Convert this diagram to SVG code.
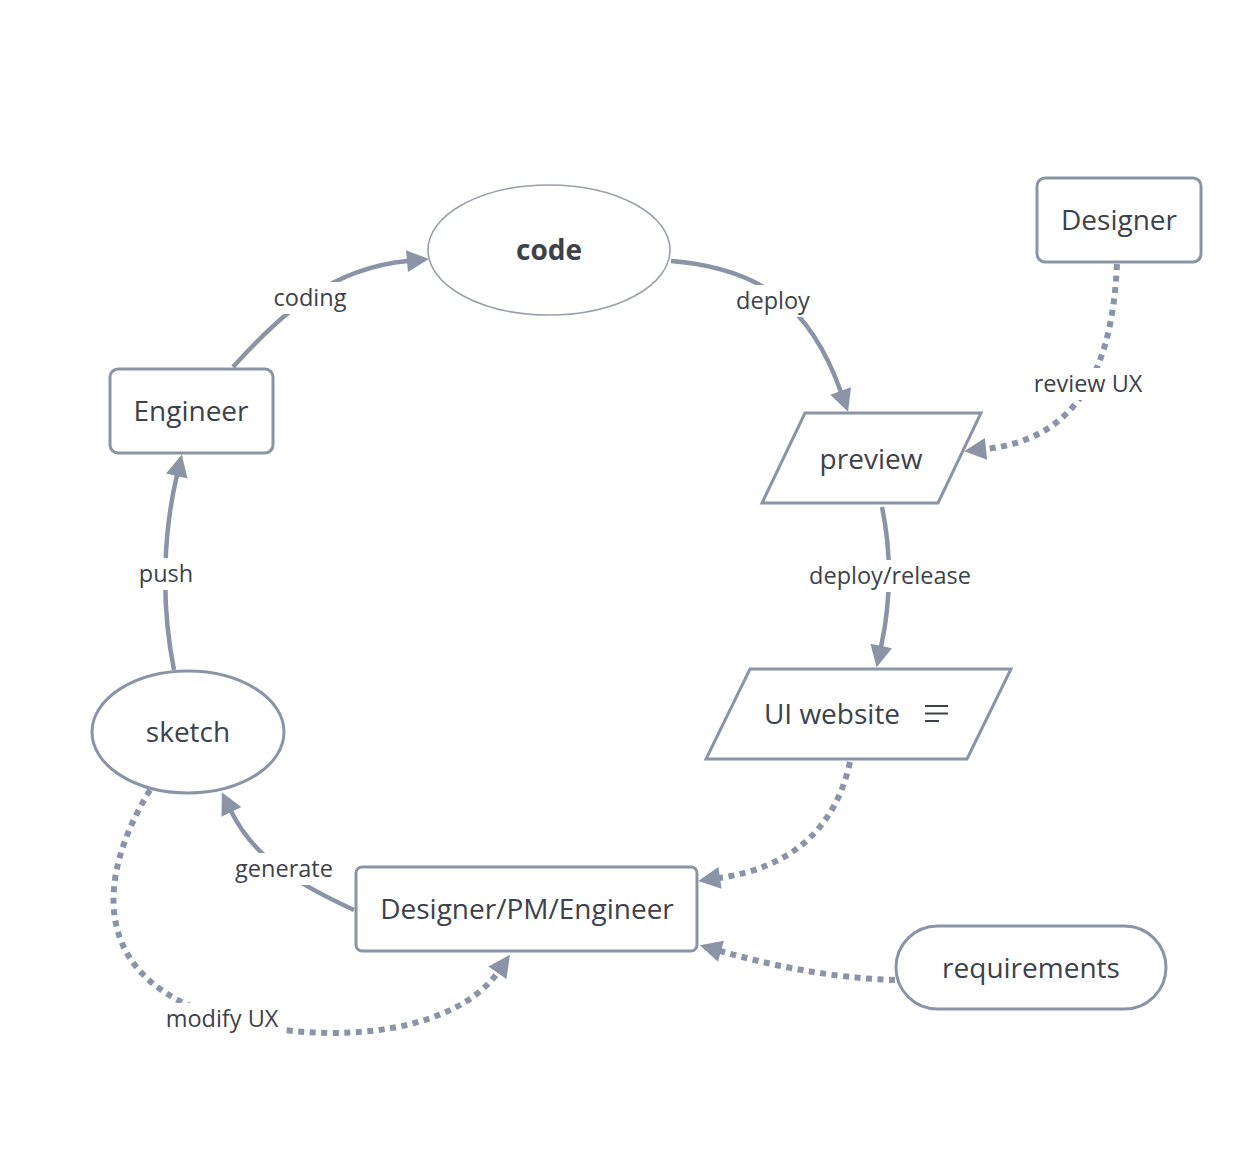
<svg xmlns="http://www.w3.org/2000/svg" width="1260" height="1152" viewBox="0 0 1260 1152">
<defs>
<style>
.shape{fill:#fff;stroke:#8b94a6;stroke-width:3}
.thin{fill:#fff;stroke:#9aa0ab;stroke-width:1.6}
.nt{font-family:"Open Sans","DejaVu Sans",sans-serif;font-size:28px;fill:#3d414a;text-anchor:middle;dominant-baseline:central}
.lt{font-family:"Open Sans","DejaVu Sans",sans-serif;font-size:23.5px;fill:#3d414a;text-anchor:middle;dominant-baseline:central}
.solid{fill:none;stroke:#8b94a6;stroke-width:4.5;marker-end:url(#ah)}
.dot{fill:none;stroke:#8b94a6;stroke-width:6;stroke-dasharray:6 5.5;marker-end:url(#ah)}
.bg{fill:#fff}
</style>
<marker id="ah" markerUnits="userSpaceOnUse" markerWidth="26" markerHeight="26" viewBox="-2 -13 26 26" refX="1" refY="0" orient="auto">
<path d="M0,-11 L22,0 L0,11 z" fill="#8b94a6"/>
</marker>
</defs>
<rect width="1260" height="1152" fill="#fff"/>
<g id="connectors">
<path class="solid" d="M233,367 C280,315 330,268 408,261"/>
<path class="solid" d="M671,261 C760,268 810,305 841,392"/>
<path class="solid" d="M882,507 C893,560 889,610 881,647"/>
<path class="solid" d="M174,670 C160,600 164,530 177,475"/>
<path class="solid" d="M354,910 C300,885 255,860 231,811"/>
<path class="dot" d="M1117,264 C1112,380 1070,440 985,449"/>
<path class="dot" d="M850,762 C835,830 790,868 719,878"/>
<path class="dot" d="M895,980 C830,978 770,965 720,951"/>
<path class="dot" d="M150,790 C95,880 95,970 200,1010 C240,1025 280,1032 330,1033 C420,1033 475,1005 498,972"/>
<rect class="bg" x="264" y="282" width="92" height="32"/>
<text class="lt" x="310" y="297">coding</text>
<rect class="bg" x="730" y="285" width="86" height="32"/>
<text class="lt" x="773" y="300">deploy</text>
<rect class="bg" x="802" y="560" width="176" height="32"/>
<text class="lt" x="890" y="575">deploy/release</text>
<rect class="bg" x="132" y="558" width="68" height="32"/>
<text class="lt" x="166" y="573">push</text>
<rect class="bg" x="228" y="853" width="112" height="32"/>
<text class="lt" x="284" y="868">generate</text>
<rect class="bg" x="1025" y="368" width="126" height="32"/>
<text class="lt" x="1088" y="383">review UX</text>
<rect class="bg" x="158" y="1003" width="128" height="32"/>
<text class="lt" x="222" y="1018">modify UX</text>
</g>
<g id="code">
<ellipse class="thin" cx="549" cy="250" rx="121" ry="65"/>
<text class="nt" x="549" y="249" font-weight="bold">code</text>
</g>
<g id="designer">
<rect class="shape" x="1037" y="178" width="164" height="84" rx="8"/>
<text class="nt" x="1119" y="219">Designer</text>
</g>
<g id="engineer">
<rect class="shape" x="110" y="369" width="163" height="84" rx="8"/>
<text class="nt" x="191" y="410">Engineer</text>
</g>
<g id="preview">
<polygon class="shape" points="805,413 981,413 938,503 762,503"/>
<text class="nt" x="871" y="458">preview</text>
</g>
<g id="ui-website">
<polygon class="shape" points="750,669 1011,669 967,759 706,759"/>
<text class="nt" x="832" y="713">UI website</text>
<g stroke="#3d414a" stroke-width="2">
<line x1="925" y1="706" x2="948" y2="706"/>
<line x1="925" y1="713.5" x2="948" y2="713.5"/>
<line x1="925" y1="721" x2="939" y2="721"/>
</g>
</g>
<g id="sketch">
<ellipse class="shape" cx="188" cy="732" rx="96" ry="61"/>
<text class="nt" x="188" y="731">sketch</text>
</g>
<g id="dpe">
<rect class="shape" x="356" y="867" width="341" height="84" rx="6"/>
<text class="nt" x="527" y="908">Designer/PM/Engineer</text>
</g>
<g id="requirements">
<rect class="shape" x="896" y="926" width="270" height="83" rx="41.5"/>
<text class="nt" x="1031" y="967">requirements</text>
</g>
</svg>
